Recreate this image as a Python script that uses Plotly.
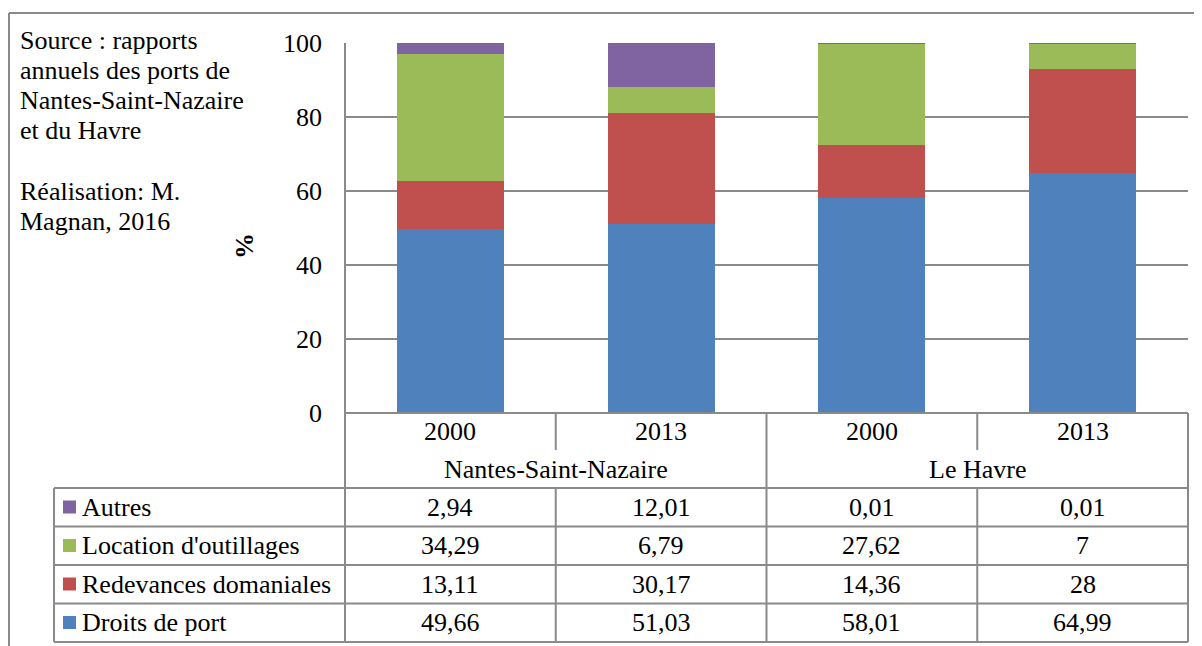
import plotly.graph_objects as go

# ---- data ----
years = ["2000", "2013", "2000", "2013"]
ports = ["Nantes-Saint-Nazaire", "Le Havre"]
series_names = ["Droits de port", "Redevances domaniales", "Location d'outillages", "Autres"]
droits = [49.66, 51.03, 58.01, 64.99]
redevances = [13.11, 30.17, 14.36, 28]
location = [34.29, 6.79, 27.62, 7]
autres = [2.94, 12.01, 0.01, 0.01]
colors = ["#4F81BD", "#C0504D", "#9BBB59", "#8064A2"]
y_ticks = [0, 20, 40, 60, 80, 100]
source_lines = ["Source : rapports", "annuels des ports de", "Nantes-Saint-Nazaire",
                "et du Havre", "", "Réalisation: M.", "Magnan, 2016"]

values = [droits, redevances, location, autres]

OFF = 8  # page body margin
W, H = 1202 - OFF, 646 - OFF
L, R, T, B = 345, 1188, 43, 413  # target page pixels
FONT = "Liberation Serif"
FS = 26
GRID = "#8a8a8a"

def px(x):
    return (x - L) / (R - L)

def py(y):
    return (B - y) / (B - T)

fig = go.Figure()
xs = list(range(len(years)))
for name, vals, col in zip(series_names, values, colors):
    fig.add_trace(go.Bar(x=xs, y=vals, name=name, marker=dict(color=col, line=dict(width=0)),
                         width=0.507, showlegend=False, hoverinfo="y+name"))

shapes = []
def line(x0, y0, x1, y1, w=2, c=GRID):
    shapes.append(dict(type="line", xref="paper", yref="paper",
                       x0=px(x0), y0=py(y0), x1=px(x1), y1=py(y1),
                       line=dict(color=c, width=w)))

# outer frame
line(9, 13, 1202, 13)
line(9, 13, 9, 646)
# plot left axis
line(L, T, L, 642)
# table
line(L, B, R, B)
line(R, B, R, 642)
cat_w = (R - L) / 4
for i in [1, 3]:
    xx = L + cat_w * i
    line(xx, B, xx, 450)
    line(xx, 488, xx, 642)
line(L + cat_w * 2, B, L + cat_w * 2, 642)
line(54, 488, 54, 642)
row_lines = [488, 526.5, 565, 603.5, 642]
for yy in row_lines:
    line(54, yy, R, yy)

annotations = []
def text(x, y, s, xanchor="center", size=FS, **kw):
    annotations.append(dict(x=px(x), y=py(y), xref="paper", yref="paper", text=s,
                            showarrow=False, xanchor=xanchor, yanchor="middle",
                            font=dict(family=FONT, size=size, color="black"), **kw))

for i, yr in enumerate(years):
    text(L + cat_w * (i + 0.5), 432, yr)
for j, p in enumerate(ports):
    text(L + cat_w * (2 * j + 1), 469, p)

# table rows top to bottom: Autres, Location, Redevances, Droits
row_order = [3, 2, 1, 0]
row_centers = [507, 545.5, 584, 622.5]
def fmt(v):
    return f"{v:g}".replace(".", ",")
for rc, si in zip(row_centers, row_order):
    shapes.append(dict(type="rect", xref="paper", yref="paper",
                       x0=px(63), x1=px(76), y0=py(rc - 6.5), y1=py(rc + 6.5),
                       fillcolor=colors[si], line=dict(width=0)))
    text(80, rc, series_names[si], xanchor="left")
    for i, v in enumerate(values[si]):
        text(L + cat_w * (i + 0.5), rc, fmt(v))

# source text
src_y0 = 40
for k, s in enumerate(source_lines):
    if s:
        text(18, src_y0 + k * 30.3, s, xanchor="left")

# y axis title
text(245, 246, "<b>%</b>", textangle=-90)

fig.update_layout(
    width=W, height=H,
    margin=dict(l=L - OFF, r=W - (R - OFF), t=T - OFF, b=H - (B - OFF), pad=0),
    barmode="stack", bargap=0.49,
    plot_bgcolor="white", paper_bgcolor="white",
    shapes=shapes, annotations=annotations,
    xaxis=dict(range=[-0.5, 3.5], showticklabels=False, showgrid=False, zeroline=False,
               fixedrange=True),
    yaxis=dict(range=[0, 100], tickvals=y_ticks, showgrid=True, gridcolor=GRID, gridwidth=2,
               zeroline=False, ticks="", ticklabelstandoff=22,
               tickfont=dict(family=FONT, size=FS, color="black"), fixedrange=True),
)

fig.write_html("out.html")
